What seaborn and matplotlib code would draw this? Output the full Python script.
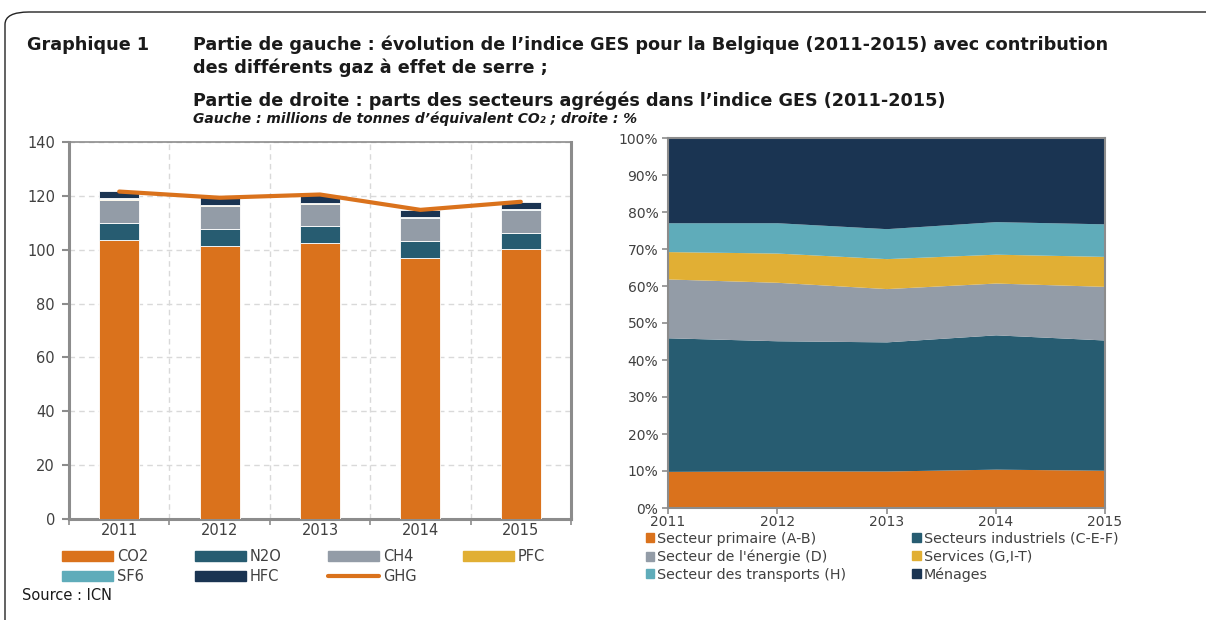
import numpy as np
import pandas as pd
import matplotlib.pyplot as plt
from matplotlib.patches import Patch, FancyBboxPatch
from matplotlib.lines import Line2D
from matplotlib.ticker import PercentFormatter
import seaborn as sns

# -----------------------------------------
# Data
# -----------------------------------------
years = ["2011", "2012", "2013", "2014", "2015"]

# left part: million tonnes CO2-eq per gas
co2 = [103.7, 101.4, 102.6, 97.0, 100.4]
n2o = [6.4, 6.2, 6.3, 6.3, 5.9]
ch4 = [8.5, 8.6, 8.1, 8.3, 8.3]
pfc = [0.4, 0.3, 0.4, 0.3, 0.3]
sf6 = [0.1, 0.1, 0.1, 0.1, 0.1]
hfc = [2.6, 2.8, 2.9, 2.7, 2.8]
ghg = [121.6, 119.3, 120.5, 114.8, 117.8]

# right part: sector shares (%)
years_num = [2011, 2012, 2013, 2014, 2015]
primaire = [9.9, 10.0, 10.0, 10.5, 10.2]
industriels = [36.1, 35.2, 34.9, 36.3, 35.2]
energie = [15.9, 15.8, 14.4, 14.0, 14.5]
services = [7.4, 7.9, 8.1, 7.8, 8.1]
transports = [7.8, 8.2, 8.1, 8.8, 8.8]
menages = [22.9, 22.9, 24.5, 22.6, 23.2]

# colours
ORANGE = "#DA721C"
TEAL = "#275C71"
GREY = "#939CA7"
YELLOW = "#E1AF34"
LTEAL = "#5FACBA"
NAVY = "#1A3452"
SPINE = "#8C8C8C"
TXT = "#404040"

# -----------------------------------------
# Figure setup
# -----------------------------------------
sns.set_theme(style="white")
plt.rcParams["font.family"] = ["DejaVu Sans"]

W, H = 1206, 620
fig = plt.figure(figsize=(W / 100, H / 100), dpi=100)


def fx(px):
    return px / W


def fy(py):
    return 1 - py / H


# rounded frame round the whole graphic
frame = FancyBboxPatch((fx(5), fy(640)), fx(1260), fy(12) - fy(640),
                       boxstyle="round,pad=0,rounding_size=0.02",
                       transform=fig.transFigure, fill=False,
                       edgecolor="#222222", linewidth=1.0, clip_on=False)
fig.patches.append(frame)

# -----------------------------------------
# Titles
# -----------------------------------------
tkw = dict(fontsize=12.7, fontweight="bold", color="#1a1a1a", va="center", ha="left")
fig.text(fx(27), fy(45), "Graphique 1", **tkw)
fig.text(fx(193), fy(45), "Partie de gauche : évolution de l’indice GES pour la Belgique "
         "(2011-2015) avec contribution", **tkw)
fig.text(fx(193), fy(68), "des différents gaz à effet de serre ;", **tkw)
fig.text(fx(193), fy(101), "Partie de droite : parts des secteurs agrégés dans l’indice GES "
         "(2011-2015)", **tkw)
fig.text(fx(193), fy(119), "Gauche : millions de tonnes d’équivalent CO₂ ; droite : %",
         fontsize=10, fontweight="bold", style="italic", color="#1a1a1a",
         va="center", ha="left")
fig.text(fx(22), fy(596), "Source : ICN", fontsize=10.5, color="#1a1a1a",
         va="center", ha="left")

# -----------------------------------------
# Left: stacked bars by gas + GHG line
# -----------------------------------------
ax1 = fig.add_axes([fx(69), fy(519), fx(571) - fx(69), fy(142) - fy(519)])

layers = [("CO2", co2, ORANGE), ("N2O", n2o, TEAL), ("CH4", ch4, GREY),
          ("PFC", pfc, YELLOW), ("SF6", sf6, LTEAL), ("HFC", hfc, NAVY)]
bottom = np.zeros(len(years))
for name, vals, col in layers:
    sns.barplot(x=years, y=vals, bottom=bottom, color=col, width=0.4,
                edgecolor="white", linewidth=0.6, errorbar=None, ax=ax1,
                saturation=1, zorder=3)
    bottom = bottom + np.array(vals)

sns.lineplot(x=np.arange(len(years)), y=ghg, color=ORANGE, linewidth=3,
             ax=ax1, zorder=4)

ax1.set_xlim(-0.5, len(years) - 0.5)
ax1.set_ylim(0, 140)
ax1.set_yticks(range(0, 141, 20))
ax1.set_xticks(range(len(years)))
ax1.set_xticklabels(years)
ax1.set_xticks(np.arange(-0.5, len(years), 1), minor=True)
ax1.grid(axis="y", which="major", color="#D9D9D9", linestyle=(0, (4, 3)), linewidth=1)
ax1.grid(axis="x", which="minor", color="#D9D9D9", linestyle=(0, (4, 3)), linewidth=1)
ax1.grid(axis="x", which="major", visible=False)
ax1.set_axisbelow(True)
ax1.set_xlabel("")
ax1.set_ylabel("")
for s in ax1.spines.values():
    s.set_visible(True)
    s.set_color(SPINE)
    s.set_linewidth(1.2)
ax1.spines["left"].set_linewidth(2.2)
ax1.spines["bottom"].set_linewidth(2.2)
ax1.spines["right"].set_linewidth(2.2)
ax1.tick_params(axis="y", which="major", left=True, length=5, width=1.5,
                color=SPINE, labelsize=10.5, labelcolor=TXT, pad=5)
ax1.tick_params(axis="x", which="major", bottom=True, length=0, labelsize=10.5,
                labelcolor=TXT, pad=3)
ax1.tick_params(axis="x", which="minor", bottom=True, length=4, width=1.2,
                color=SPINE)

h1 = [Patch(color=ORANGE), Patch(color=LTEAL), Patch(color=TEAL), Patch(color=NAVY),
      Patch(color=GREY), Line2D([], [], color=ORANGE, linewidth=3), Patch(color=YELLOW)]
l1 = ["CO2", "SF6", "N2O", "HFC", "CH4", "GHG", "PFC"]
fig.legend(h1, l1, ncol=4, loc="upper left", bbox_to_anchor=(fx(49), fy(536)),
           frameon=False, fontsize=10.5, handlelength=3.5, handleheight=0.7,
           handletextpad=0.25, columnspacing=3.2, labelspacing=0.35,
           labelcolor=TXT)

# -----------------------------------------
# Right: 100% stacked areas by sector
# -----------------------------------------
ax2 = fig.add_axes([fx(668), fy(508), fx(1105) - fx(668), fy(138) - fy(508)])
sectors = [primaire, industriels, energie, services, transports, menages]
cols2 = [ORANGE, TEAL, GREY, YELLOW, LTEAL, NAVY]
ax2.stackplot(years_num, *sectors, colors=cols2, linewidth=0)
ax2.set_xlim(2011, 2015)
ax2.set_ylim(0, 100)
ax2.set_xticks(years_num)
ax2.set_yticks(range(0, 101, 10))
ax2.yaxis.set_major_formatter(PercentFormatter(decimals=0))
ax2.grid(False)
for s in ax2.spines.values():
    s.set_visible(True)
    s.set_color(SPINE)
    s.set_linewidth(1.5)
ax2.tick_params(axis="y", left=True, length=4, width=1.2, color=SPINE,
                labelsize=10, labelcolor=TXT, pad=3)
ax2.tick_params(axis="x", bottom=True, length=4, width=1.2, color=SPINE,
                labelsize=10, labelcolor=TXT, pad=1)

h2 = [Patch(color=c) for c in [ORANGE, GREY, LTEAL, TEAL, YELLOW, NAVY]]
l2 = ["Secteur primaire (A-B)", "Secteur de l'énergie (D)", "Secteur des transports (H)",
      "Secteurs industriels (C-E-F)", "Services (G,I-T)", "Ménages"]
fig.legend(h2, l2, ncol=2, loc="upper left", bbox_to_anchor=(fx(633), fy(519)),
           frameon=False, fontsize=10.3, handlelength=0.6, handleheight=0.6,
           handletextpad=0.2, columnspacing=4.6, labelspacing=0.26,
           labelcolor=TXT)

plt.savefig("out.png", dpi=100)
plt.close()
